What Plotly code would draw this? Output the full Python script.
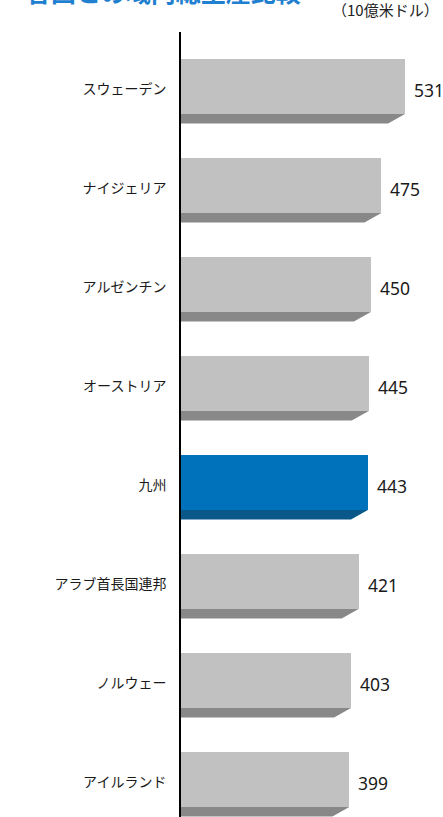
import plotly.graph_objects as go

categories = ["スウェーデン", "ナイジェリア", "アルゼンチン", "オーストリア", "九州", "アラブ首長国連邦", "ノルウェー", "アイルランド"]
values = [531, 475, 450, 445, 443, 421, 403, 399]
highlight = "九州"
title_text = "各国との域内総生産比較"
unit_text = "（10億米ドル）"

W, H = 443, 817
ML, MT = 181, 32
plot_w = W - ML
plot_h = H - MT
x_max = 621.2
y_range = [7.348, -0.581]

face_gray, strip_gray = "#c0c1c0", "#888888"
face_blue, strip_blue = "#0071bb", "#0a5889"

ypos = list(range(len(categories)))
face_colors = [face_blue if c == highlight else face_gray for c in categories]

fig = go.Figure()

# darker bottom strip with bevelled right end
bevel = 40
for i, (c, v) in enumerate(zip(categories, values)):
    t, b = i + 0.247, i + 0.343
    fig.add_trace(go.Scatter(
        x=[0, v, v - bevel, 0, 0], y=[t, t, b, b, t],
        mode="lines", fill="toself",
        fillcolor=strip_blue if c == highlight else strip_gray,
        line=dict(width=0), hoverinfo="skip", showlegend=False))

# bar faces
fig.add_trace(go.Bar(
    x=values, y=[p - 0.03 for p in ypos], orientation="h",
    width=0.556, marker=dict(color=face_colors, line=dict(width=0)),
    showlegend=False, hoverinfo="skip"))

annotations = []
for i, v in enumerate(values):
    annotations.append(dict(x=v, y=i, xref="x", yref="y", text=str(v),
                            showarrow=False, xanchor="left", yanchor="middle",
                            xshift=7, font=dict(size=17.5, color="#1a1a1a", family="Noto Sans")))

annotations.append(dict(x=1, y=1 + (MT - 9) / plot_h, xref="paper", yref="paper",
                        text=unit_text, showarrow=False, xanchor="right", yanchor="middle",
                        xshift=-2, font=dict(size=15, color="#222222", family="Noto Sans CJK JP")))
annotations.append(dict(x=(24 - ML) / plot_w, y=1 + (MT + 9) / plot_h, xref="paper", yref="paper",
                        text="<b>" + title_text + "</b>", showarrow=False, xanchor="left", yanchor="middle",
                        font=dict(size=25, color="#1f80d0", family="Noto Sans CJK JP")))

fig.update_layout(
    width=W, height=H,
    margin=dict(l=ML, r=0, t=MT, b=0, pad=0),
    plot_bgcolor="white", paper_bgcolor="white",
    bargap=0,
    annotations=annotations,
    xaxis=dict(range=[0, x_max], visible=False, showgrid=False, zeroline=False),
    yaxis=dict(range=y_range, tickmode="array", tickvals=ypos, ticktext=categories,
               showgrid=False, zeroline=False, showline=True, linecolor="black", linewidth=1.6,
               ticks="", ticklabelstandoff=10,
               tickfont=dict(size=14, color="#1a1a1a", family="Noto Sans CJK JP")),
)

fig.write_html("out.html", config={"displayModeBar": False},
               post_script="document.body.style.margin='0';document.body.style.overflow='hidden';")
